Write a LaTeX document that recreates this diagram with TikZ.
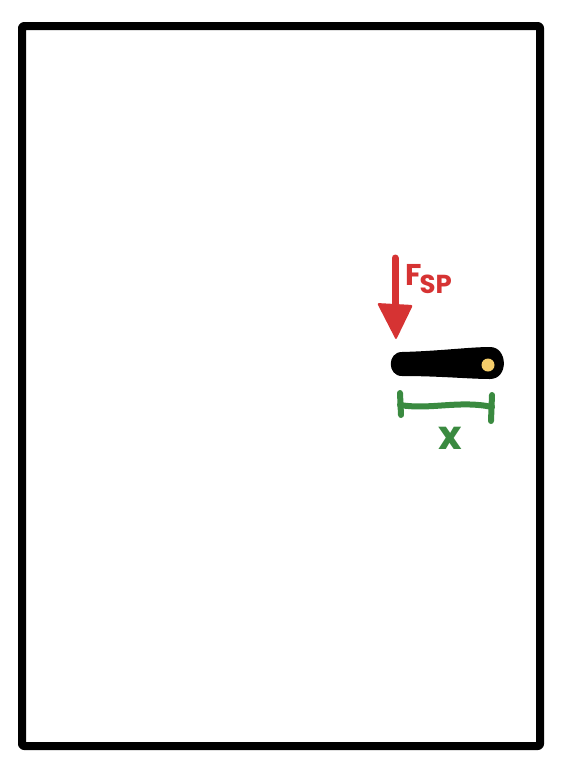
\documentclass[tikz,border=0pt]{standalone}
\usepackage{fontspec}
\setmainfont{Poppins}
\definecolor{fred}{HTML}{D63333}
\definecolor{fgreen}{HTML}{3A8A40}
\definecolor{fyellow}{HTML}{F5CD6A}
\begin{document}
\begin{tikzpicture}[x=1pt,y=-1pt,
  lbl/.style={font=\bfseries, inner sep=0pt}]
\useasboundingbox (0,0) rectangle (562,772);
\draw[line width=8pt, line join=round, rounded corners=2pt] (22,26) rectangle (540,746);
% force arrow
\coordinate (fa) at (395,258);
\coordinate (fb) at (395,312);
\draw[fred, line width=7pt, line cap=round] (fa) -- (fb);
\fill[fred, rounded corners=2pt] (377,303) -- (413,305) -- (396,340) -- cycle;
\node[lbl, text=fred, font=\bfseries\fontsize{30}{30}\selectfont, anchor=base west] (F) at (405,285) {F\kern-2pt\raisebox{-8pt}{\fontsize{26}{26}\selectfont SP}};
% bar
\fill[black] (402,352) .. controls (440,351) and (470,347) .. (490,347)
  .. controls (508,347) and (509,379) .. (490,379)
  .. controls (470,379) and (440,376) .. (402,376)
  .. controls (387,376) and (387,352) .. (402,352) -- cycle;
\fill[fyellow] (488,365) circle (6.5);
% dimension
\coordinate (d1) at (400,405);
\coordinate (d2) at (492,407);
\draw[fgreen, line width=6pt, line cap=round] (d1) .. controls (430,410) and (460,400) .. (d2);
\draw[fgreen, line width=6pt, line cap=round] (400,393) -- (401,415);
\draw[fgreen, line width=6pt, line cap=round] (492,395) -- (491,421);
\node[lbl, text=fgreen, font=\bfseries\fontsize{40}{40}\selectfont, anchor=base] (X) at (450,449) {x};
\end{tikzpicture}
\end{document}
